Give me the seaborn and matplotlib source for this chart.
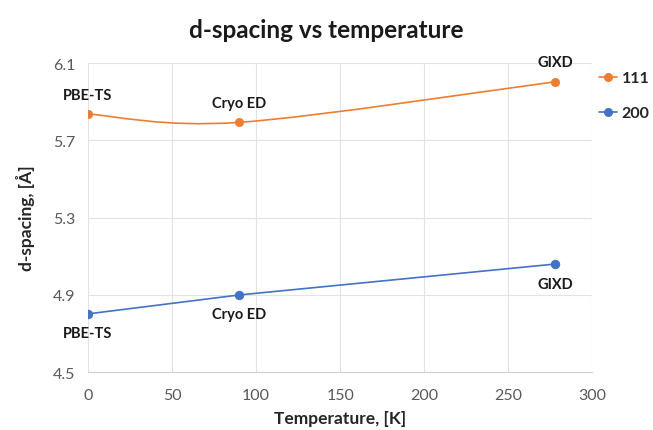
import numpy as np
import matplotlib
matplotlib.use("Agg")
import matplotlib.pyplot as plt
from matplotlib.path import Path
from matplotlib.patches import PathPatch
from matplotlib.lines import Line2D
import seaborn as sns

# data
temperature = [0, 90, 278]
d_111 = [5.836, 5.793, 6.003]
d_200 = [4.802, 4.900, 5.060]
methods = ["PBE-TS", "Cryo ED", "GIXD"]
series_names = ["111", "200"]

orange = "#ED7D31"
blue = "#4472C4"

sns.set_theme(style="white")
plt.rcParams['font.family'] = ['Lato', 'DejaVu Sans']

fig = plt.figure(figsize=(6.53, 4.31), dpi=100)
ax = fig.add_axes([0.1348, 0.134, 0.7725, 0.7175])


def smooth_path(xs, ys):
    # Excel-style smoothed line: cubic Bezier through the points
    pts = np.column_stack([xs, ys]).astype(float)
    n = len(pts)
    verts = [pts[0]]
    codes = [Path.MOVETO]
    for i in range(n - 1):
        p0 = pts[max(i - 1, 0)]
        p1 = pts[i]
        p2 = pts[i + 1]
        p3 = pts[min(i + 2, n - 1)]
        c1 = p1 + (p2 - p0) / 6
        c2 = p2 - (p3 - p1) / 6
        verts += [c1, c2, p2]
        codes += [Path.CURVE4] * 3
    return Path(verts, codes)


# 111: smoothed line
ax.add_patch(PathPatch(smooth_path(temperature, d_111), facecolor="none",
                       edgecolor=orange, lw=1.2, zorder=3))
sns.scatterplot(x=temperature, y=d_111, color=orange, s=36, edgecolor=orange,
                zorder=4, ax=ax)

# 200: straight line
sns.lineplot(x=temperature, y=d_200, color=blue, lw=1.2, marker="o",
             markersize=6, markeredgecolor=blue, zorder=4, ax=ax)

for t, d, m in zip(temperature, d_111, methods):
    ax.annotate(m, (t, d), xytext=(0, 9), textcoords="offset points",
                ha="center", va="bottom", fontsize=10.5, fontweight="bold",
                color="#1a1a1a")
for t, d, m in zip(temperature, d_200, methods):
    ax.annotate(m, (t, d), xytext=(0, -9), textcoords="offset points",
                ha="center", va="top", fontsize=10.5, fontweight="bold",
                color="#1a1a1a")

ax.set_xlim(0, 300)
ax.set_ylim(4.5, 6.1)
ax.set_xticks(range(0, 301, 50))
ax.set_yticks([4.5, 4.9, 5.3, 5.7, 6.1])
ax.set_yticklabels(["4.5", "4.9", "5.3", "5.7", "6.1"])
ax.grid(True, color="#e3e3e3", lw=0.8)
ax.tick_params(axis="both", labelsize=11.5, colors="#595959", length=0)
ax.tick_params(axis="x", pad=11)
ax.tick_params(axis="y", pad=9)
for s in ["top", "right", "left"]:
    ax.spines[s].set_visible(False)
ax.spines["bottom"].set_color("#d0d0d0")
ax.spines["bottom"].set_linewidth(0.8)

ax.set_xlabel("Temperature, [K]", fontsize=12.5, fontweight="bold", color="#262626", labelpad=6)
ax.set_ylabel("d-spacing, [Å]", fontsize=12.5, fontweight="bold", color="#262626", labelpad=13)
fig.suptitle("d-spacing vs temperature", x=0.5, y=0.955, fontsize=17.5,
             fontweight="bold", color="#1a1a1a")

handles = [Line2D([], [], color=orange, marker="o", markersize=5.5, lw=1.2),
           Line2D([], [], color=blue, marker="o", markersize=5.5, lw=1.2)]
leg = fig.legend(handles, series_names, loc="upper left",
                 bbox_to_anchor=(0.918, 0.833), frameon=False, handlelength=1.1,
                 handletextpad=0.3, labelspacing=1.3, borderaxespad=0, borderpad=0,
                 prop={"weight": "bold", "size": 11.5})

fig.savefig("out.png", dpi=100)
